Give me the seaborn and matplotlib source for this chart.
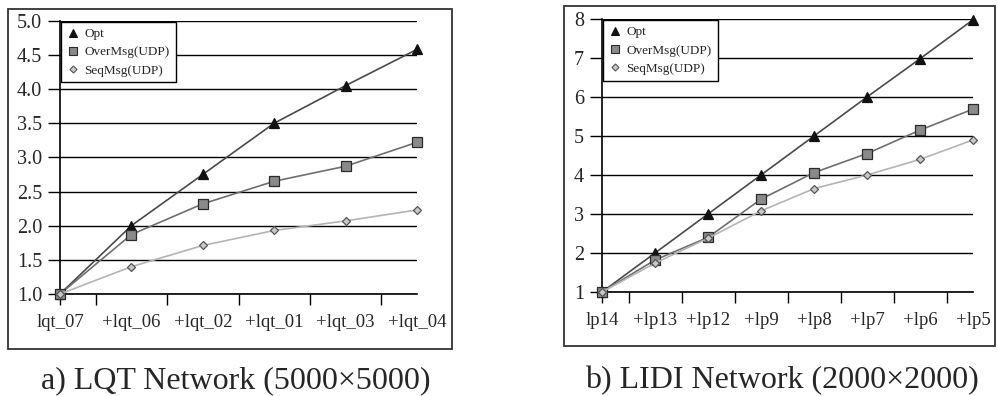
import numpy as np
import matplotlib
matplotlib.use("Agg")
import matplotlib.pyplot as plt
from matplotlib.patches import Rectangle
from matplotlib.lines import Line2D
import seaborn as sns

# ---- data ----
lqt_labels = ["lqt_07", "+lqt_06", "+lqt_02", "+lqt_01", "+lqt_03", "+lqt_04"]
lqt_opt = [1.0, 2.0, 2.75, 3.50, 4.05, 4.58]
lqt_over = [1.0, 1.87, 2.32, 2.65, 2.87, 3.22]
lqt_seq = [1.0, 1.40, 1.71, 1.93, 2.07, 2.23]
lqt_yticks = [1.0, 1.5, 2.0, 2.5, 3.0, 3.5, 4.0, 4.5, 5.0]

lidi_labels = ["lp14", "+lp13", "+lp12", "+lp9", "+lp8", "+lp7", "+lp6", "+lp5"]
lidi_opt = [1, 2.0, 3.0, 4.0, 5.0, 6.0, 6.98, 7.98]
lidi_over = [1, 1.82, 2.40, 3.38, 4.06, 4.55, 5.15, 5.69]
lidi_seq = [1, 1.74, 2.38, 3.08, 3.65, 4.0, 4.40, 4.90]
lidi_yticks = [1, 2, 3, 4, 5, 6, 7, 8]

series_names = ["Opt", "OverMsg(UDP)", "SeqMsg(UDP)"]
captions = ["a) LQT Network (5000\u00d75000)", "b) LIDI Network (2000\u00d72000)"]

sns.set_style("white")
plt.rcParams["font.family"] = ["Liberation Serif", "DejaVu Serif"]

W, H = 997, 396
fig = plt.figure(figsize=(W / 100, H / 100), dpi=100)

styles = [
    dict(color="#4a4a4a", marker="^", ms=6.5, mfc="#111111", mec="#111111", lw=1.2),
    dict(color="#6e6e6e", marker="s", ms=6.5, mfc="#8a8a8a", mec="#2a2a2a", lw=1.2),
    dict(color="#b4b4b4", marker="D", ms=4.2, mfc="#c8c8c8", mec="#555555", lw=1.2),
]


def panel(rect, labels, series, yticks, yfmt, ylim):
    ax = fig.add_axes(rect)
    x = np.arange(len(labels))
    for vals, st in zip(series, styles):
        sns.lineplot(x=x, y=vals, ax=ax, color=st["color"], lw=st["lw"],
                     marker=st["marker"], markersize=st["ms"],
                     markerfacecolor=st["mfc"], markeredgecolor=st["mec"],
                     markeredgewidth=0.9, clip_on=False, zorder=5)
    ax.set_xlim(0, len(labels) - 1)
    ax.set_ylim(*ylim)
    ax.set_yticks(yticks)
    ax.set_yticklabels([yfmt.format(v) for v in yticks], fontsize=14.5)
    ax.grid(axis="y", color="black", lw=1.0)
    ax.grid(axis="x", visible=False)
    ax.tick_params(axis="y", direction="out", length=8.6, width=1.0,
                   color="black", pad=4.2, left=True)
    # major ticks at category boundaries, labels on minor ticks at categories
    ax.xaxis.remove_overlapping_locs = False
    bounds = [0] + [i + 0.5 for i in range(len(labels) - 1)]
    ax.set_xticks(bounds)
    ax.set_xticklabels([""] * len(bounds))
    ax.set_xticks(x, minor=True)
    ax.set_xticklabels(labels, minor=True, fontsize=13.5)
    ax.tick_params(axis="x", which="major", direction="out", length=8,
                   width=1.0, color="black", bottom=True)
    ax.tick_params(axis="x", which="minor", length=0, pad=14.5)
    for s in ["top", "right"]:
        ax.spines[s].set_visible(False)
    for s in ["left", "bottom"]:
        ax.spines[s].set_color("black")
        ax.spines[s].set_linewidth(1.2)
    ax.set_xlabel("")
    ax.set_ylabel("")
    handles = [Line2D([], [], ls="none", marker=st["marker"],
                      markersize=st["ms"] * 0.85, markerfacecolor=st["mfc"],
                      markeredgecolor=st["mec"], markeredgewidth=0.8)
               for st in styles]
    leg = ax.legend(handles, series_names, loc="upper left",
                    bbox_to_anchor=(0.0, 1.0), borderaxespad=0.1,
                    fontsize=9.5, frameon=True, fancybox=False,
                    handlelength=0.8, handletextpad=0.5, labelspacing=0.45,
                    borderpad=0.45)
    leg.get_frame().set_edgecolor("black")
    leg.get_frame().set_linewidth(1.0)
    leg.get_frame().set_alpha(1.0)
    leg.set_zorder(10)
    return ax


panel([60 / W, 1 - 294 / H, (417 - 60) / W, (294 - 20.7) / H],
      lqt_labels, [lqt_opt, lqt_over, lqt_seq], lqt_yticks, "{:.1f}", (1.0, 5.0))
panel([602 / W, 1 - 292 / H, (973 - 602) / W, (292 - 19) / H],
      lidi_labels, [lidi_opt, lidi_over, lidi_seq], lidi_yticks, "{:d}", (1, 8))

# outer frames
for (x0, y0, x1, y1) in [(8, 9, 452, 349), (564, 6, 995, 346)]:
    fig.patches.append(Rectangle((x0 / W, 1 - y1 / H), (x1 - x0) / W, (y1 - y0) / H,
                                 transform=fig.transFigure, fill=False,
                                 edgecolor="#333333", lw=1.3))

fig.text(236 / W, 1 - 388 / H, captions[0], ha="center", va="baseline", fontsize=23)
fig.text(782 / W, 1 - 388 / H, captions[1], ha="center", va="baseline", fontsize=23)

fig.savefig("out.png", dpi=100)
